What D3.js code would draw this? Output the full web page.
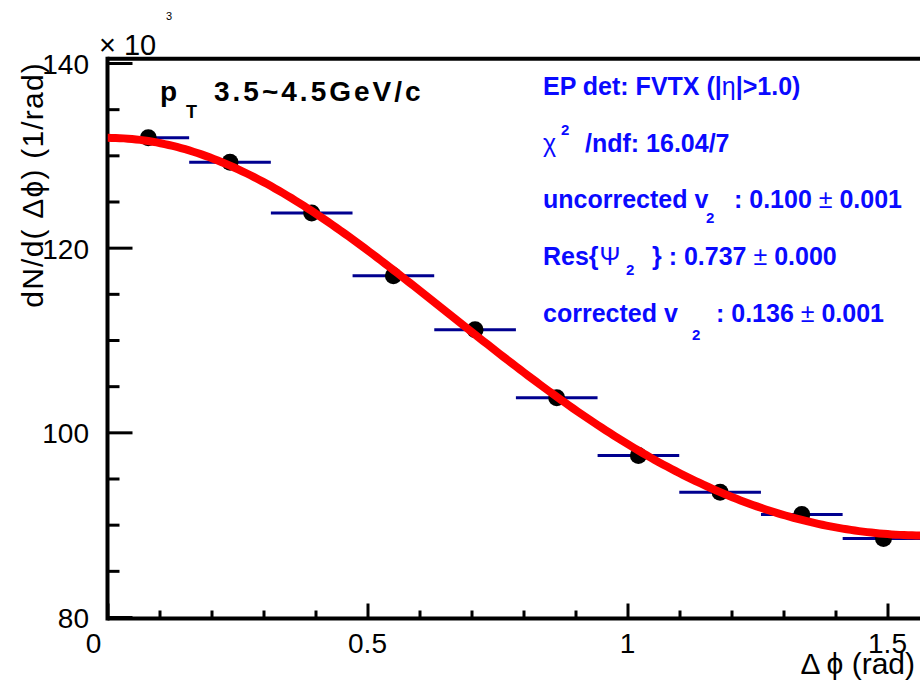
<!DOCTYPE html>
<html>
<head>
<meta charset="utf-8">
<script src="https://cdn.jsdelivr.net/npm/d3@7"></script>
<style>
  html, body { margin: 0; padding: 0; background: #fff; }
  svg { display: block; }
  text { font-family: "Liberation Sans", Arial, Helvetica, sans-serif; }
</style>
</head>
<body>
<svg id="chart" width="920" height="684"></svg>
<script>
// ---------------- data ----------------
const binCenters = [0.0785, 0.2356, 0.3927, 0.5498, 0.7069, 0.8639, 1.0210, 1.1781, 1.3352, 1.4923];
const binHalfWidth = [0.0785, 0.0785, 0.0785, 0.0785, 0.0785, 0.0785, 0.0785, 0.0785, 0.0785, 0.0785];
const counts = [131.9, 129.25, 123.75, 116.95, 111.1, 103.75, 97.5, 93.5, 91.1, 88.5]; // x10^3
const countErr = [0.15, 0.15, 0.15, 0.15, 0.15, 0.15, 0.15, 0.15, 0.15, 0.15];
const xMajorTicks = [0, 0.5, 1, 1.5];
const xTickLabels = ["0", "0.5", "1", "1.5"];
const xMinorTicks = [0.1, 0.2, 0.3, 0.4, 0.6, 0.7, 0.8, 0.9, 1.1, 1.2, 1.3, 1.4];
const yMajorTicks = [80, 100, 120, 140];
const yTickLabels = ["80", "100", "120", "140"];
const yMinorTicks = [85, 90, 95, 105, 110, 115, 125, 130, 135];
// fit function: A * (1 + 2 v2 cos(2 dphi) + 2 v4 cos(4 dphi))
const fitA = 108.75;
const fitV2 = 0.099;
const fitV4 = 0.0074;

// ---------------- layout ----------------
const svg = d3.select("#chart");
const X0 = 107.5, XPX_PER_RAD = 520;
const x = d3.scaleLinear().domain([0, Math.PI / 2]).range([X0, X0 + XPX_PER_RAD * Math.PI / 2]);
const y = d3.scaleLinear().domain([80, 140]).range([617, 63]);
const yFrameTop = 140.45;

const defs = svg.append("defs");
defs.append("clipPath").attr("id", "plotclip")
  .append("rect").attr("x", x(0)).attr("y", y(yFrameTop)).attr("width", 920 - x(0)).attr("height", y(80) - y(yFrameTop));

// frame (top line; right side is outside the picture)
svg.append("line")
  .attr("x1", x(0)).attr("x2", 920).attr("y1", y(yFrameTop)).attr("y2", y(yFrameTop))
  .attr("stroke", "#000").attr("stroke-width", 4);

// x axis
const xAxisMajor = d3.axisBottom(x).tickValues(xMajorTicks).tickSize(-15).tickFormat(() => "");
const xAxisMinor = d3.axisBottom(x).tickValues(xMinorTicks).tickSize(-8).tickFormat(() => "");
const gx = svg.append("g").attr("transform", `translate(0,${y(80) + 1.5})`);
gx.call(xAxisMajor);
gx.append("g").call(xAxisMinor);
gx.selectAll(".domain").attr("stroke", "#000").attr("stroke-width", 4);
gx.selectAll(".tick line").attr("stroke", "#000").attr("stroke-width", 3);
gx.select(".domain").attr("d", `M${x(0)},0H920`);
gx.selectAll("g > g > .domain").remove();

// x tick labels
svg.append("g").selectAll("text")
  .data(xMajorTicks)
  .join("text")
  .attr("x", (d) => x(d) + (d === 0 ? -14 : 0))
  .attr("y", 653)
  .attr("text-anchor", "middle")
  .attr("font-size", 28)
  .attr("fill", "#000")
  .text((d, i) => xTickLabels[i]);

// y axis
const yAxisMajor = d3.axisLeft(y).tickValues(yMajorTicks).tickSize(-25).tickFormat(() => "");
const yAxisMinor = d3.axisLeft(y).tickValues(yMinorTicks).tickSize(-12).tickFormat(() => "");
const gy = svg.append("g").attr("transform", `translate(${x(0)},0)`);
gy.call(yAxisMajor);
gy.append("g").call(yAxisMinor);
gy.selectAll(".domain").remove();
gy.selectAll(".tick line").attr("stroke", "#000").attr("stroke-width", 3);
svg.append("line")
  .attr("x1", x(0)).attr("x2", x(0)).attr("y1", y(yFrameTop) - 2).attr("y2", y(80) + 3.5)
  .attr("stroke", "#000").attr("stroke-width", 4);

// y tick labels
svg.append("g").selectAll("text")
  .data(yMajorTicks)
  .join("text")
  .attr("x", 89)
  .attr("y", (d) => y(d) + 11)
  .attr("text-anchor", "end")
  .attr("font-size", 28)
  .attr("fill", "#000")
  .text((d, i) => yTickLabels[i]);

// x10^3
svg.append("text").attr("x", 99).attr("y", 55).attr("font-size", 29).attr("fill", "#000").text("\u00d7 10");
svg.append("text").attr("x", 166).attr("y", 20).attr("font-size", 11).attr("fill", "#000").text("3");

// axis titles
svg.append("text")
  .attr("x", 915).attr("y", 674)
  .attr("text-anchor", "end")
  .attr("font-size", 30)
  .attr("fill", "#000")
  .text("\u0394\u2009\u03d5 (rad)");
svg.append("text")
  .attr("transform", `translate(43,62) rotate(-90)`)
  .attr("text-anchor", "end")
  .attr("font-size", 30)
  .attr("letter-spacing", 1.2)
  .attr("fill", "#000")
  .text("dN/d( \u0394\u03d5) (1/rad)");

// ---------------- marks ----------------
const plot = svg.append("g").attr("clip-path", "url(#plotclip)");

// horizontal error bars (bin widths)
plot.append("g").selectAll("line.hbar")
  .data(binCenters)
  .join("line")
  .attr("class", "hbar")
  .attr("x1", (d, i) => x(d - binHalfWidth[i]))
  .attr("x2", (d, i) => x(d + binHalfWidth[i]))
  .attr("y1", (d, i) => y(counts[i]))
  .attr("y2", (d, i) => y(counts[i]))
  .attr("stroke", "#00008f")
  .attr("stroke-width", 3);

// vertical error bars
plot.append("g").selectAll("line.vbar")
  .data(binCenters)
  .join("line")
  .attr("class", "vbar")
  .attr("x1", (d) => x(d)).attr("x2", (d) => x(d))
  .attr("y1", (d, i) => y(counts[i] - countErr[i]))
  .attr("y2", (d, i) => y(counts[i] + countErr[i]))
  .attr("stroke", "#00008f")
  .attr("stroke-width", 3);

// markers
plot.append("g").selectAll("circle")
  .data(binCenters)
  .join("circle")
  .attr("cx", (d) => x(d))
  .attr("cy", (d, i) => y(counts[i]))
  .attr("r", 8.5)
  .attr("fill", "#000");

// fit curve
const fitX = d3.range(0, 201).map((k) => (k / 200) * (Math.PI / 2));
const fitLine = d3.line()
  .x((d) => x(d))
  .y((d) => y(fitA * (1 + 2 * fitV2 * Math.cos(2 * d) + 2 * fitV4 * Math.cos(4 * d))));
plot.append("path")
  .datum(fitX)
  .attr("d", fitLine)
  .attr("fill", "none")
  .attr("stroke", "#ff0000")
  .attr("stroke-width", 8);

// ---------------- annotations ----------------
// pT label
const pt = svg.append("text").attr("x", 160).attr("y", 101).attr("font-size", 28).attr("font-weight", "bold").attr("fill", "#000");
pt.append("tspan").text("p");
pt.append("tspan").attr("x", 186).attr("dy", 17).attr("font-size", 18).text("T");
pt.append("tspan").attr("x", 214).attr("dy", -17).attr("letter-spacing", 3).text("3.5~4.5GeV/c");

const blue = "#0a0aff";
const bx = 543;
const fs = 25;
const sfs = 15;
const t1 = svg.append("text").attr("x", bx).attr("y", 95).attr("font-size", fs).attr("font-weight", "bold").attr("fill", blue);
t1.append("tspan").text("EP det: FVTX (|");
t1.append("tspan").attr("font-weight", "normal").text("\u03b7");
t1.append("tspan").text("|>1.0)");

const t2 = svg.append("text").attr("x", bx).attr("y", 152).attr("font-size", fs).attr("font-weight", "bold").attr("fill", blue);
t2.append("tspan").attr("font-weight", "normal").attr("font-size", 25).text("\u03c7");
t2.append("tspan").attr("x", 561).attr("dy", -17).attr("font-size", sfs).text("2");
t2.append("tspan").attr("x", 585).attr("dy", 17).text("/ndf: 16.04/7");

const t3 = svg.append("text").attr("x", bx).attr("y", 208).attr("font-size", fs).attr("font-weight", "bold").attr("fill", blue);
t3.append("tspan").text("uncorrected v");
t3.append("tspan").attr("x", 706).attr("dy", 15).attr("font-size", sfs).text("2");
t3.append("tspan").attr("x", 734).attr("dy", -15).text(": 0.100 ");
t3.append("tspan").attr("font-weight", "normal").text("\u00b1");
t3.append("tspan").text(" 0.001");

const t4 = svg.append("text").attr("x", bx).attr("y", 265).attr("font-size", fs).attr("font-weight", "bold").attr("fill", blue);
t4.append("tspan").text("Res{");
t4.append("tspan").attr("dx", 1).attr("font-weight", "normal").text("\u03a8");
t4.append("tspan").attr("x", 626).attr("dy", 10).attr("font-size", sfs).text("2");
t4.append("tspan").attr("x", 652).attr("dy", -10).text("} : 0.737 ");
t4.append("tspan").attr("font-weight", "normal").text("\u00b1");
t4.append("tspan").text(" 0.000");

const t5 = svg.append("text").attr("x", bx).attr("y", 322).attr("font-size", fs).attr("font-weight", "bold").attr("fill", blue);
t5.append("tspan").text("corrected v");
t5.append("tspan").attr("x", 692).attr("dy", 18).attr("font-size", sfs).text("2");
t5.append("tspan").attr("x", 716).attr("dy", -18).text(": 0.136 ");
t5.append("tspan").attr("font-weight", "normal").text("\u00b1");
t5.append("tspan").text(" 0.001");
</script>
</body>
</html>
